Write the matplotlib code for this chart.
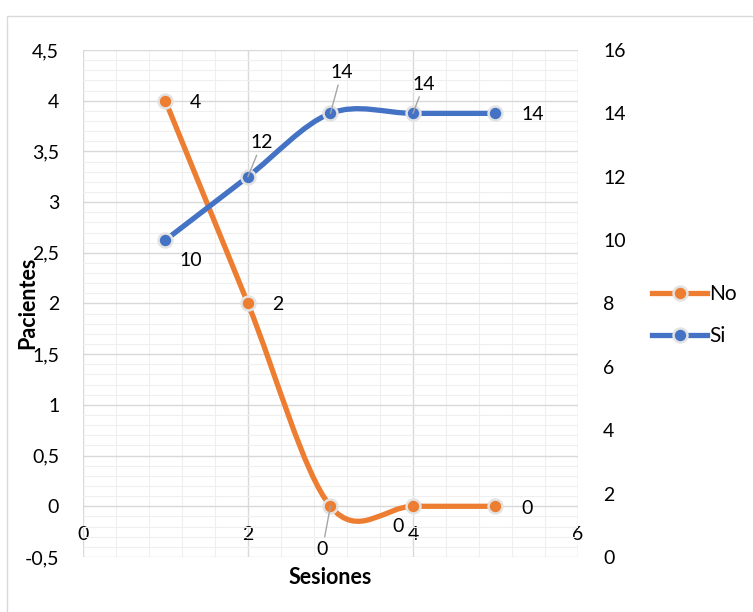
import numpy as np
import matplotlib.pyplot as plt
from matplotlib.path import Path
from matplotlib.patches import PathPatch, Rectangle
from matplotlib.lines import Line2D
from matplotlib.ticker import MultipleLocator, FuncFormatter

plt.rcParams['font.family'] = ['Lato', 'DejaVu Sans']

# datos
sesiones = [1, 2, 3, 4, 5]
no = [4, 2, 0, 0, 0]
si = [10, 12, 14, 14, 14]

naranja = '#ED7D31'
azul = '#4472C4'
fs = 14
fs_tit = 15.5


def suave(x, y):
    # curva suavizada tipo Excel (bezier cubica)
    p = np.column_stack([x, y]).astype(float)
    n = len(p)
    verts = [p[0]]
    codes = [Path.MOVETO]
    for i in range(n - 1):
        p0 = p[max(i - 1, 0)]
        p1 = p[i]
        p2 = p[i + 1]
        p3 = p[min(i + 2, n - 1)]
        verts += [p1 + (p2 - p0) / 6, p2 - (p3 - p1) / 6, p2]
        codes += [Path.CURVE4] * 3
    return Path(verts, codes)


coma = FuncFormatter(lambda v, pos: f"{v:g}".replace('.', ','))

fig = plt.figure(figsize=(7.53, 6.12), dpi=100)
ax = fig.add_axes([0.110, 0.0899, 0.6576, 0.8284])
ax2 = ax.twinx()

ax.set_xlim(0, 6)
ax.set_ylim(-0.5, 4.5)
ax2.set_ylim(0, 16)

ax.xaxis.set_major_locator(MultipleLocator(2))
ax.xaxis.set_minor_locator(MultipleLocator(0.4))
ax.yaxis.set_major_locator(MultipleLocator(0.5))
ax.yaxis.set_minor_locator(MultipleLocator(0.1))
ax2.yaxis.set_major_locator(MultipleLocator(2))
ax.yaxis.set_major_formatter(coma)
ax.xaxis.set_major_formatter(coma)

ax.grid(which='major', color='#D9D9D9', lw=1)
ax.grid(which='minor', color='#EFEFEF', lw=0.8)
ax.set_axisbelow(True)

for s in ax.spines.values():
    s.set_visible(False)
for s in ax2.spines.values():
    s.set_visible(False)
ax.spines['bottom'].set_position(('data', 0))

ax.tick_params(which='both', length=0)
ax.tick_params(axis='y', labelsize=fs, pad=17)
ax.tick_params(axis='x', labelsize=fs, pad=14)
ax2.tick_params(which='both', length=0, labelsize=fs, pad=18)

# series
ax.add_patch(PathPatch(suave(sesiones, no), fill=False, edgecolor=naranja, lw=3.8, capstyle='round'))
ax.plot(sesiones, no, 'o', color=naranja, ms=10, mec='#E3E3E3', mew=1.8)
ax2.add_patch(PathPatch(suave(sesiones, si), fill=False, edgecolor=azul, lw=3.8, capstyle='round'))
ax2.plot(sesiones, si, 'o', color=azul, ms=10, mec='#E3E3E3', mew=1.8)

# etiquetas de datos
off_no = [(21.6, -1.4), (21.6, -0.7), (-5.8, -31), (-10.8, -14.4), (23, -1.4)]
off_si = [(18, -14.4), (10, 24.5), (8, 29.5), (8, 21), (27, -0.7)]
guia_no = [2]
guia_si = [1, 2, 3]
lider = dict(arrowstyle='-', color='#A6A6A6', lw=1, shrinkA=1, shrinkB=0)

for i, (xv, yv) in enumerate(zip(sesiones, no)):
    ax.annotate(str(yv), (xv, yv), xytext=off_no[i], textcoords='offset points',
                ha='center', va='center', fontsize=fs,
                arrowprops=lider if i in guia_no else None)
for i, (xv, yv) in enumerate(zip(sesiones, si)):
    ax2.annotate(str(yv), (xv, yv), xytext=off_si[i], textcoords='offset points',
                 ha='center', va='center', fontsize=fs,
                 arrowprops=lider if i in guia_si else None)

ax.set_ylabel('Pacientes', fontsize=fs_tit, fontweight='bold')
ax.yaxis.label.set_va('center')
ax.yaxis.set_label_coords(-0.111, 0.501)
ax.set_xlabel('Sesiones', fontsize=fs_tit, fontweight='bold')
ax.xaxis.set_label_coords(0.5, -0.02)

h = [Line2D([], [], color=naranja, lw=3.8, marker='o', ms=10, mec='#E3E3E3', mew=1.8),
     Line2D([], [], color=azul, lw=3.8, marker='o', ms=10, mec='#E3E3E3', mew=1.8)]
fig.legend(h, ['No', 'Si'], loc='center left', bbox_to_anchor=(0.866, 0.485),
           frameon=False, fontsize=15, handlelength=2.64, handletextpad=0.1,
           labelspacing=1.05, borderpad=0, borderaxespad=0)

fig.add_artist(Rectangle((0.0093, -0.1), 1.1, 1.074, transform=fig.transFigure,
                         fill=False, edgecolor='#D9D9D9', lw=1))

fig.savefig('out.png', dpi=100)
